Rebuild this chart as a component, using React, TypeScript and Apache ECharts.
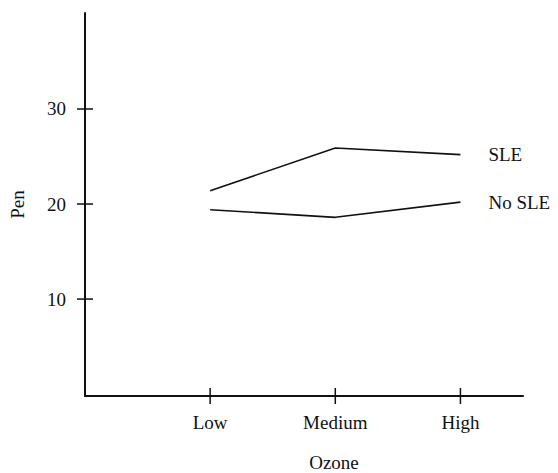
import React, { useEffect, useRef } from "react";
import * as echarts from "echarts";

const categories = ["Low", "Medium", "High"];
const categoryPositions = [1, 2, 3];
const sleValues = [21.4, 25.9, 25.2];
const noSleValues = [19.4, 18.6, 20.2];
const yTicks = [10, 20, 30];

const FONT = "'Liberation Serif', 'Times New Roman', serif";
const TICK_HALF = 8;

export default function App() {
  const ref = useRef<HTMLDivElement>(null);
  useEffect(() => {
    if (!ref.current) return;
    const chart = echarts.init(ref.current, undefined, { renderer: "svg" });
    const mkSeries = (name: string, vals: number[]) => ({
      name,
      type: "line",
      data: categoryPositions.map((x, i) => [x, vals[i]]),
      symbol: "none",
      lineStyle: { color: "#111", width: 1.6 },
      endLabel: {
        show: true,
        formatter: name,
        distance: 28,
        color: "#111",
        fontFamily: FONT,
        fontSize: 19,
      },
    });
    // crossing tick marks, placed through the axes' scales
    const tickSeries = (axis: "x" | "y", values: number[]) => ({
      type: "custom",
      silent: true,
      clip: false,
      data: values.map((v) => [v]),
      renderItem: (params: any, api: any) => {
        const cs = params.coordSys;
        const v = api.value(0);
        if (axis === "x") {
          const px = api.coord([v, 10])[0];
          const py = cs.y + cs.height;
          return {
            type: "line",
            shape: { x1: px, y1: py - TICK_HALF, x2: px, y2: py + TICK_HALF },
            style: { stroke: "#111", lineWidth: 1.5 },
          };
        }
        const py = api.coord([1, v])[1];
        const px = cs.x;
        return {
          type: "line",
          shape: { x1: px - TICK_HALF, y1: py, x2: px + TICK_HALF, y2: py },
          style: { stroke: "#111", lineWidth: 1.5 },
        };
      },
    });
    chart.setOption({
      animation: false,
      backgroundColor: "#fff",
      grid: { left: 82, right: 35, top: 13, bottom: 77 },
      xAxis: {
        type: "value",
        min: 0,
        max: 3.5,
        splitLine: { show: false },
        axisLine: { show: true, onZero: false, lineStyle: { color: "#111", width: 2 } },
        axisTick: { show: false },
        axisLabel: {
          show: true,
          customValues: categoryPositions,
          formatter: (v: number) => categories[Math.round(v) - 1] ?? "",
          margin: 17,
          color: "#111",
          fontFamily: FONT,
          fontSize: 19,
        },
      },
      yAxis: {
        type: "value",
        min: -0.2,
        max: 40.1,
        splitLine: { show: false },
        name: "Pen",
        nameLocation: "middle",
        nameGap: 58,
        nameRotate: 90,
        nameTextStyle: { color: "#111", fontFamily: FONT, fontSize: 19 },
        axisLine: { show: true, onZero: false, lineStyle: { color: "#111", width: 2 } },
        axisTick: { show: false },
        axisLabel: {
          show: true,
          customValues: yTicks,
          margin: 19,
          color: "#111",
          fontFamily: FONT,
          fontSize: 19,
        },
      },
      graphic: [
        {
          type: "text",
          x: 334,
          y: 462,
          style: {
            text: "Ozone",
            fill: "#111",
            fontFamily: FONT,
            fontSize: 19,
            textAlign: "center",
            textVerticalAlign: "middle",
          },
        },
      ],
      series: [
        mkSeries("SLE", sleValues),
        mkSeries("No SLE", noSleValues),
        tickSeries("x", categoryPositions),
        tickSeries("y", yTicks),
      ],
    });
    return () => chart.dispose();
  }, []);
  return (
    <div
      ref={ref}
      style={{ position: "absolute", left: 0, top: 0, width: 558, height: 473 }}
    />
  );
}
